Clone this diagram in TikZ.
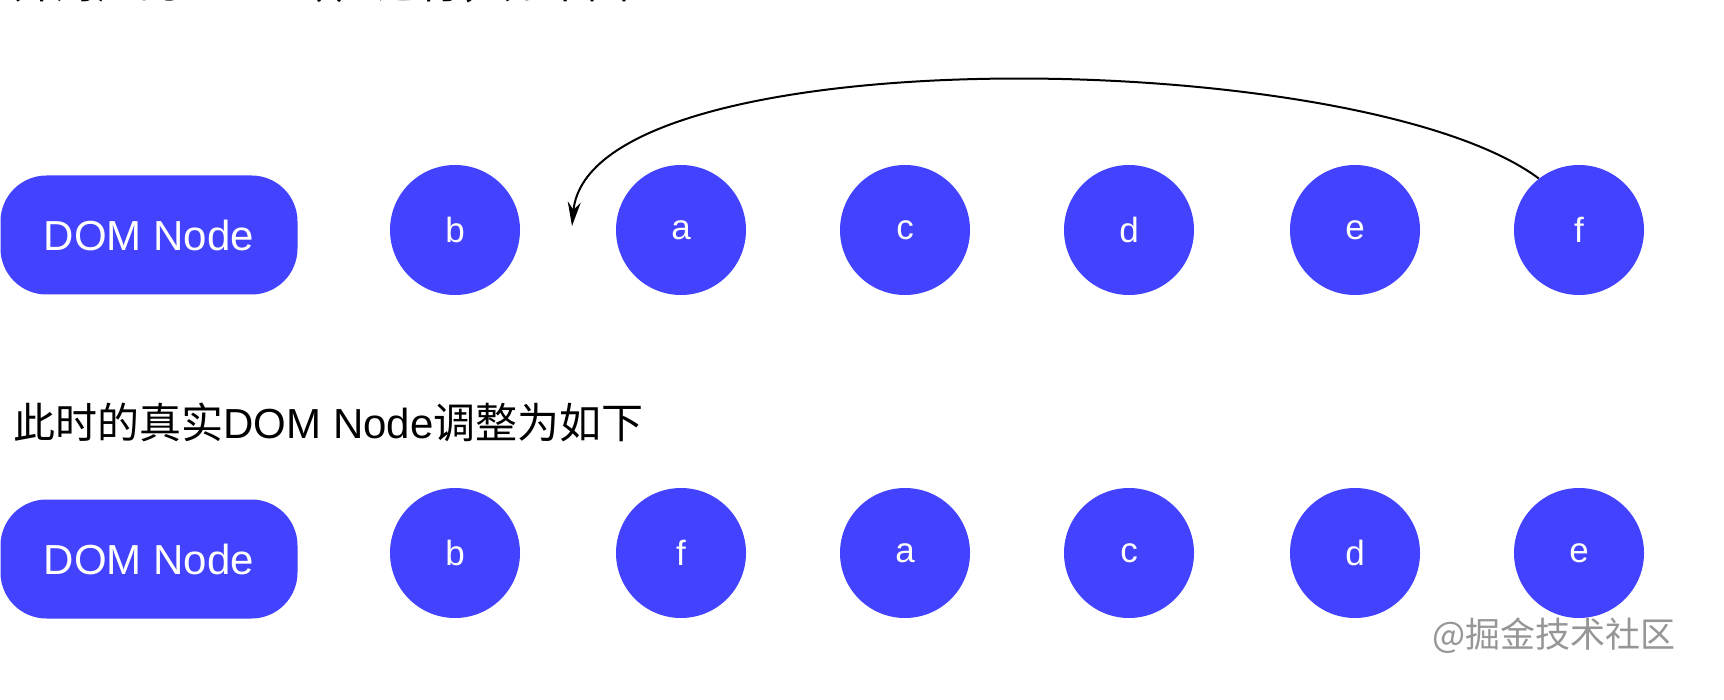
\documentclass[tikz,border=0pt]{standalone}
\usepackage{fontspec}
\setmainfont{Liberation Sans}
\newfontfamily\cjk{Noto Sans CJK SC}
\usetikzlibrary{arrows.meta}
\definecolor{nodeblue}{RGB}{66,66,255}
\definecolor{wmgray}{RGB}{150,150,150}
\begin{document}
\begin{tikzpicture}[x=0.5pt,y=-0.5pt,
  domnode/.style={fill=nodeblue, text=white, rounded corners=23pt, minimum width=148.5pt, minimum height=59.5pt, font=\fontsize{21}{25}\selectfont, inner sep=0pt},
  vnode/.style={circle, fill=nodeblue, text=white, minimum size=65pt, inner sep=0pt, font=\fontsize{17.5}{20}\selectfont},
  caption/.style={anchor=base west, inner sep=0pt, font=\fontsize{21}{25}\selectfont},
  watermark/.style={inner sep=0pt, text=wmgray, font=\cjk\fontsize{17.5}{20}\selectfont},
  movearrow/.style={draw=black, line width=1pt, -{Stealth[length=12pt,width=6.5pt]}}
]
\useasboundingbox (0,0) rectangle (1724,700);
\clip (0,0) rectangle (1724,700);
\fill[white] (0,0) rectangle (1724,700);

% top (cut-off) caption
\node[caption] (cap1) at (13,-1.5) {{\cjk 并对应的}Node{\cjk （}f{\cjk ）进行，如下图}};

% row 1
\node[domnode] (dom1) at (149,235) {DOM Node};
\node[vnode] (b1) at (455,230) {b};
\node[vnode] (a1) at (681,230) {a};
\node[vnode] (c1) at (905,230) {c};
\node[vnode] (d1) at (1129,230) {d};
\node[vnode] (e1) at (1355,230) {e};
\node[vnode] (f1) at (1579,230) {f};
\coordinate (tip) at (572,226);
\draw[movearrow] (f1.128) .. controls (1360,45) and (590,35) .. (tip);

% caption 2
\node[caption] (cap2) at (13,438) {{\cjk 此时的真实}DOM Node{\cjk 调整为如下}};

% row 2
\node[domnode] (dom2) at (149,559) {DOM Node};
\node[vnode] (b2) at (455,553) {b};
\node[vnode] (f2) at (681,553) {f};
\node[vnode] (a2) at (905,553) {a};
\node[vnode] (c2) at (1129,553) {c};
\node[vnode] (d2) at (1355,553) {d};
\node[vnode] (e2) at (1579,553) {e};

% watermark
\node[watermark] (wm) at (1554,636) {@掘金技术社区};
\end{tikzpicture}
\end{document}
